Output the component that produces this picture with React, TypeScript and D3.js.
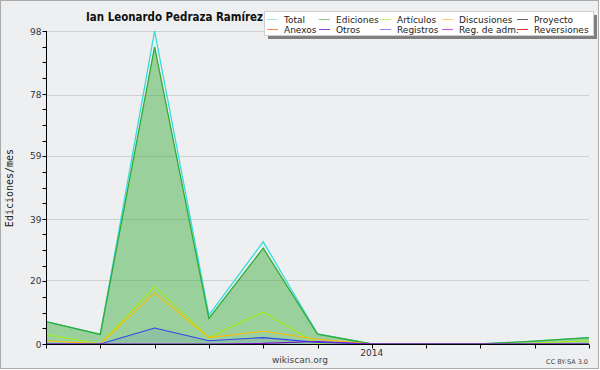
import React, { useRef, useEffect } from "react";
import * as d3 from "d3";

// months from 2013-07 to 2014-05
const months = ["2013-07", "2013-08", "2013-09", "2013-10", "2013-11", "2013-12", "2014-01", "2014-02", "2014-03", "2014-04", "2014-05"];
const total = [7, 3, 98, 9, 32, 3.2, 0, 0, 0, 0.9, 2];
const ediciones = [7, 3, 93, 8, 30, 3.1, 0, 0, 0, 0.9, 2];
const articulos = [3, 0, 18, 2, 10, 0, 0, 0, 0, 0.3, 1];
const discusiones = [1, 0, 16, 2, 4, 1.5, 0, 0, 0, 0, 0];
const registros = [0, 0, 5, 1, 2, 0.5, 0, 0, 0, 0, 0];
const otros = [0, 0, 0, 0, 0.2, 0.8, 0, 0, 0, 0, 0];
const yTicks = [0, 20, 39, 59, 78, 98];

const legendItems = [
  ["Total", "#a8e8e4"], ["Ediciones", "#88cc88"], ["Artículos", "#ccee66"], ["Discusiones", "#ffcc66"], ["Proyecto", "#666666"],
  ["Anexos", "#ff8844"], ["Otros", "#8844cc"], ["Registros", "#8888ff"], ["Reg. de adm.", "#cc55dd"], ["Reversiones", "#ee3333"],
];

const W = 600, H = 370;

const App: React.FC = () => {
  const svgRef = useRef<SVGSVGElement | null>(null);

  useEffect(() => {
    if (!svgRef.current) return;
    const svg = d3.select(svgRef.current);
    svg.selectAll("*").remove();

    const font = "'DejaVu Sans', sans-serif";
    const x = d3.scaleLinear().domain([0, months.length - 1]).range([46, 589]);
    const y = d3.scaleLinear().domain([0, 98]).range([344, 31]);

    // background + frame
    svg.append("rect").attr("x", 0.5).attr("y", 0.5).attr("width", 598).attr("height", 368)
      .attr("fill", "#eeeff0").attr("stroke", "#aaaaaa");

    // grid
    svg.append("g").selectAll("line").data(yTicks.slice(1)).join("line")
      .attr("x1", 46).attr("x2", 589)
      .attr("y1", (d) => Math.round(y(d)) + 0.5).attr("y2", (d) => Math.round(y(d)) + 0.5)
      .attr("stroke", "#cfcfcf");

    const idx = months.map((_, i) => i);
    const area = (vals: number[]) =>
      d3.area<number>().x((i) => x(i)).y0(y(0)).y1((i) => y(vals[i]))(idx) as string;
    const line = (vals: number[]) =>
      d3.line<number>().x((i) => x(i)).y((i) => y(vals[i]))(idx) as string;

    // fills
    svg.append("path").attr("d", area(ediciones)).attr("fill", "#33aa33").attr("fill-opacity", 0.45);
    svg.append("path").attr("d", area(registros)).attr("fill", "#3344ee").attr("fill-opacity", 0.1);

    const series: [number[], string, number][] = [
      [total, "#33dddd", 1.3],
      [ediciones, "#33aa33", 1.3],
      [articulos, "#aaee11", 1.1],
      [discusiones, "#ffbb00", 1.1],
      [registros, "#3344ee", 1.1],
      [otros, "#7711cc", 1.1],
    ];
    series.forEach(([vals, color, w]) => {
      svg.append("path").attr("d", line(vals)).attr("fill", "none").attr("stroke", color).attr("stroke-width", w);
    });

    // axes
    const yAxis = svg.append("g").attr("transform", "translate(46.5,0)");
    const minor = d3.range(0, 21).map((k) => (98 * k) / 20);
    yAxis.selectAll("line.t").data(minor).join("line").attr("class", "t")
      .attr("x1", -4).attr("x2", 0)
      .attr("y1", (d) => Math.round(y(d)) + 0.5).attr("y2", (d) => Math.round(y(d)) + 0.5)
      .attr("stroke", "#000");
    yAxis.append("line").attr("y1", y(98)).attr("y2", y(0) + 1).attr("stroke", "#000");
    yAxis.selectAll("text").data(yTicks).join("text")
      .attr("x", -5).attr("y", (d) => y(d) + 3.5)
      .attr("text-anchor", "end").attr("font-family", font).attr("font-size", 9).attr("fill", "#333")
      .text((d) => d);

    const xAxis = svg.append("g").attr("transform", "translate(0,344.5)");
    xAxis.append("line").attr("x1", 46).attr("x2", 589).attr("stroke", "#000");
    xAxis.selectAll("line.t").data(idx).join("line").attr("class", "t")
      .attr("x1", (i) => Math.round(x(i)) + 0.5).attr("x2", (i) => Math.round(x(i)) + 0.5)
      .attr("y1", 0).attr("y2", 4).attr("stroke", "#000");
    xAxis.selectAll("text").data(idx.filter((i) => months[i].endsWith("-01"))).join("text")
      .attr("x", (i) => x(i)).attr("y", 11)
      .attr("text-anchor", "middle").attr("font-family", font).attr("font-size", 9).attr("fill", "#333")
      .text((i) => months[i].slice(0, 4));

    // y label
    svg.append("text").attr("transform", "translate(13,188) rotate(-90)")
      .attr("text-anchor", "middle").attr("font-family", "'DejaVu Sans Mono', monospace").attr("font-size", 10).attr("fill", "#222")
      .text("Ediciones/mes");

    // title
    svg.append("text").attr("x", 86).attr("y", 21)
      .attr("font-family", font).attr("font-weight", "bold")
      .attr("font-size", 12).attr("fill", "#111")
      .attr("textLength", 177).attr("lengthAdjust", "spacingAndGlyphs")
      .text("Ian Leonardo Pedraza Ramírez");

    // footer
    svg.append("text").attr("x", 300).attr("y", 363).attr("text-anchor", "middle")
      .attr("font-family", font).attr("font-size", 9).attr("fill", "#444").text("wikiscan.org");
    svg.append("text").attr("x", 588).attr("y", 364).attr("text-anchor", "end")
      .attr("font-family", font).attr("font-size", 6.5).attr("fill", "#444").text("CC BY-SA 3.0");

    // legend
    const lg = svg.append("g");
    lg.append("rect").attr("x", 268).attr("y", 15).attr("width", 329).attr("height", 24).attr("fill", "#808080");
    lg.append("rect").attr("x", 264.5).attr("y", 11.5).attr("width", 329).attr("height", 24)
      .attr("fill", "#fff").attr("stroke", "#d0d0d0");
    const colX = [267, 319, 380, 442, 517];
    legendItems.forEach(([name, color], k) => {
      const cx = colX[k % 5];
      const cy = k < 5 ? 19 : 29;
      lg.append("line").attr("x1", cx).attr("x2", cx + 11).attr("y1", cy + 0.5).attr("y2", cy + 0.5)
        .attr("stroke", color).attr("stroke-width", 1);
      lg.append("text").attr("x", cx + 17).attr("y", cy + 3.5)
        .attr("font-family", font).attr("font-size", 9).attr("fill", "#222").text(name);
    });
  }, []);

  return (
    <svg ref={svgRef} width={W} height={H} style={{ position: "absolute", left: 0, top: 0 }}></svg>
  );
};

export default App;
